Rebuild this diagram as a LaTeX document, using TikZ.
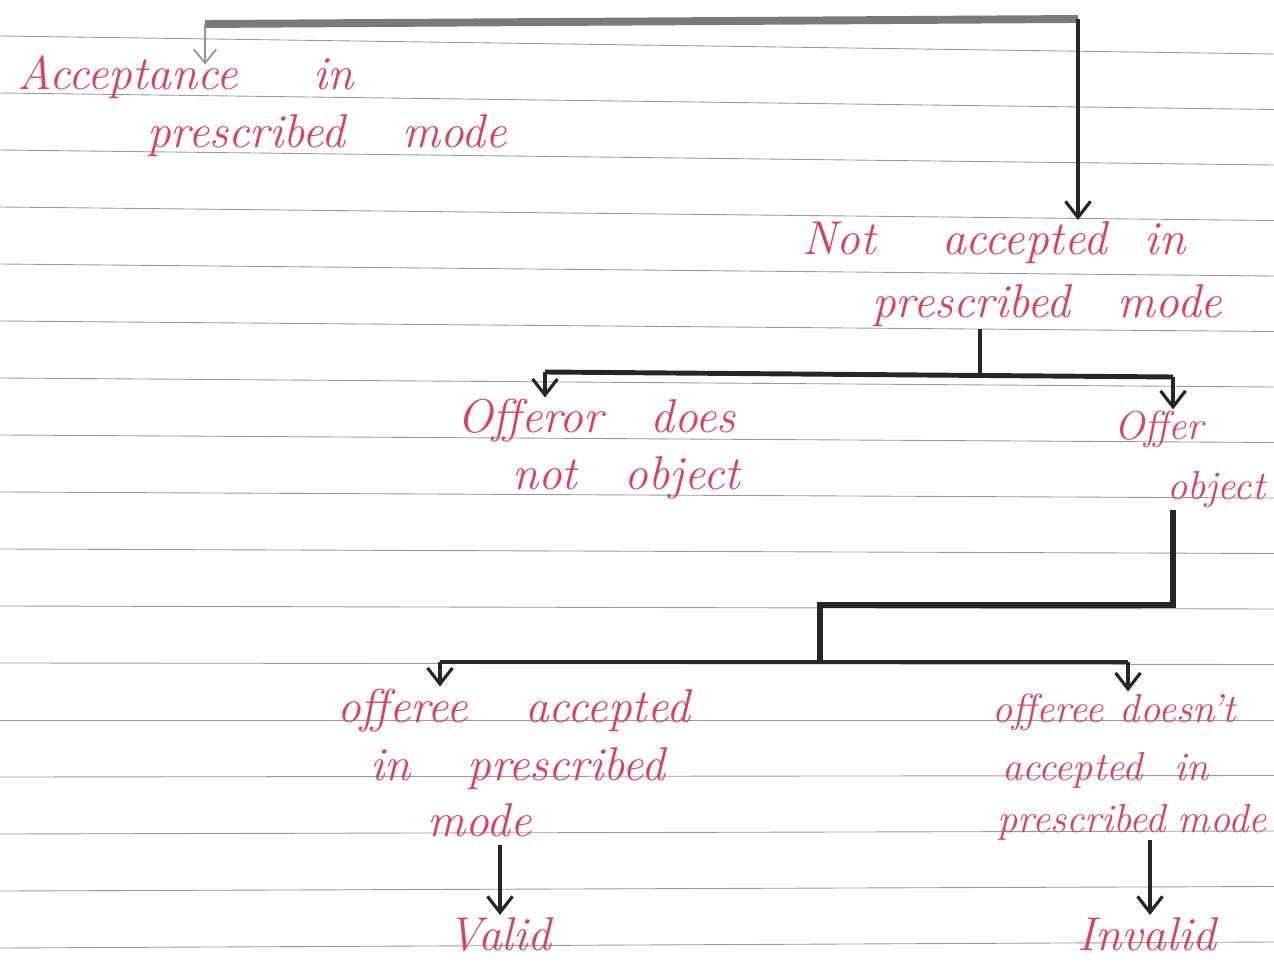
\documentclass[tikz,border=0pt]{standalone}
\usepackage{xcolor}
\usepackage{tikz}
\usetikzlibrary{arrows.meta}
\definecolor{InkRed}{HTML}{D8435E}
\definecolor{InkDark}{HTML}{262626}
\definecolor{PencilGray}{HTML}{7A7A7A}
\definecolor{RuleGray}{HTML}{9A9A9A}
\tikzset{
  note/.style={font=\fontsize{27}{32}\selectfont\itshape,text=InkRed,anchor=base west,inner sep=1pt},
  edgenote/.style={note,font=\fontsize{23}{28}\selectfont\itshape},
  flow/.style={-{Straight Barb[length=3.2mm,width=5mm,line width=1.8pt]},line width=2.4pt,draw=InkDark},
  branch/.style={line width=2.8pt,draw=InkDark},
  pencil/.style={line width=4.5pt,draw=PencilGray},
  faint/.style={-{Straight Barb[length=2.8mm,width=4.5mm,line width=1pt]},line width=1.2pt,draw=PencilGray!80},
  rule/.style={draw=RuleGray,line width=0.5pt},
}
\begin{document}
\begin{tikzpicture}[x=0.02cm,y=-0.02cm]
  \path[use as bounding box] (0,0) rectangle (1274,972);
  \clip (0,0) rectangle (1274,972);
  \fill[white] (0,0) rectangle (1274,972);

  % ruled paper
  \foreach \k in {0,...,16}
    \draw[rule] (0,{36+57*\k}) -- (1274,{36+57*\k+18-1.5*\k});

  % texts
  \node[note] (acc1) at (15,90) {Acceptance\hspace{1.6em}in};
  \node[note] (acc2) at (145,148) {prescribed\hspace{1.2em}mode};
  \node[note] (not1) at (800,255) {Not\hspace{1.4em}accepted\hspace{0.8em}in};
  \node[note] (not2) at (870,318) {prescribed\hspace{1em}mode};
  \node[note] (obj1) at (455,433) {Offeror\hspace{1em}does};
  \node[note] (obj2) at (510,490) {not\hspace{1em}object};
  \node[edgenote] (off1) at (1112,440) {Offer};
  \node[edgenote] (off2) at (1165,500) {object};
  \node[note] (yes1) at (335,722) {offeree\hspace{1.2em}accepted};
  \node[note] (yes2) at (368,780) {in\hspace{1.2em}prescribed};
  \node[note] (yes3) at (425,836) {mode};
  \node[edgenote] (no1) at (990,722) {offeree\hspace{0.4em}doesn't};
  \node[edgenote] (no2) at (1000,780) {accepted\hspace{0.8em}in};
  \node[edgenote] (no3) at (995,832) {prescribed\hspace{0.3em}mode};
  \node[note] (valid) at (445,950) {Valid};
  \node[note] (invalid) at (1075,950) {Invalid};

  % top split
  \coordinate (j1L) at (205,24);
  \coordinate (j1R) at (1078,19);
  \draw[pencil] (j1L) -- (j1R);
  \draw[faint] (j1L) -- ([yshift=-6pt]j1L |- acc1.north);
  \draw[flow] (j1R) -- (j1R |- not1.north);

  % not accepted
  \coordinate (j2) at (980,374);
  \coordinate (j2L) at (545,372);
  \coordinate (j2R) at (1173,377);
  \draw[branch] (not2.south -| j2) -- (j2);
  \draw[branch] (j2L) -- (j2R);
  \draw[flow] (j2L) -- (j2L |- obj1.north);
  \draw[flow] (j2R) -- (j2R |- off1.north);

  % offeror objects
  \coordinate (j3) at (1173,605);
  \coordinate (j3L) at (820,605);
  \coordinate (j4) at (820,662);
  \coordinate (j4L) at (440,662);
  \coordinate (j4R) at (1128,662);
  \draw[branch,line width=3.4pt] (off2.south -| j3) -- (j3) -- (j3L) -- (j4);
  \draw[branch] (j4L) -- (j4R);
  \draw[flow] (j4L) -- (j4L |- yes1.north);
  \draw[flow] (j4R) -- (j4R |- no1.north);

  % results
  \draw[flow] (500,845) -- (valid.north -| 500,0);
  \draw[flow] (1150,840) -- (invalid.north -| 1150,0);
\end{tikzpicture}
\end{document}
